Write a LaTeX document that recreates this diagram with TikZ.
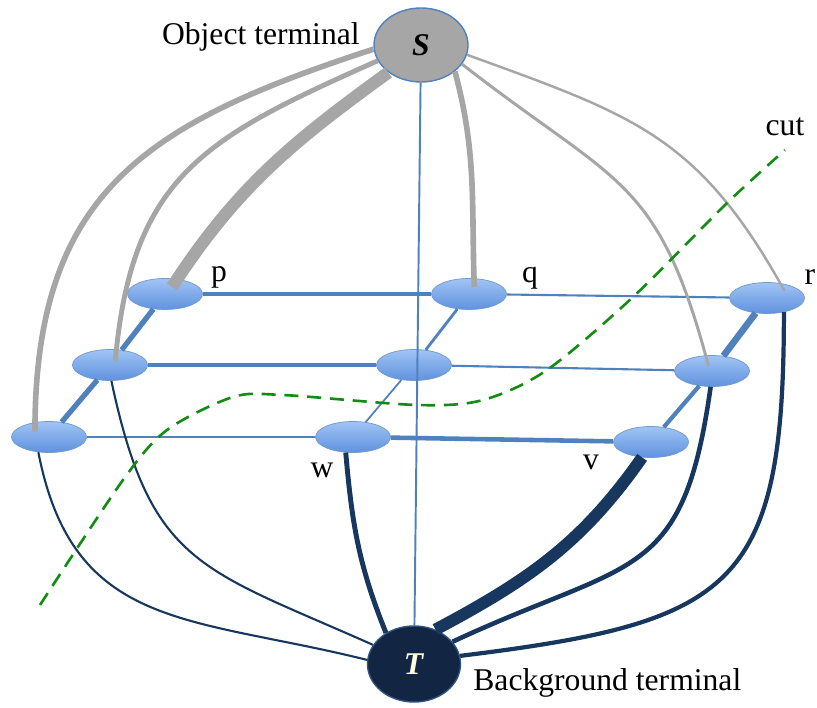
\documentclass[tikz,border=0pt]{standalone}
\usepackage{fontspec}
\setmainfont{Liberation Serif}
\usepackage{tikz}
\usetikzlibrary{shapes.geometric}
\definecolor{pixblue}{RGB}{79,129,189}
\definecolor{pixtop}{RGB}{160,196,245}
\definecolor{pixbot}{RGB}{96,146,222}
\definecolor{srcgray}{RGB}{166,166,166}
\definecolor{snknavy}{RGB}{23,55,94}
\definecolor{snkfill}{RGB}{18,37,66}
\definecolor{cutgreen}{RGB}{20,140,20}
\def\pixnode{\node[ellipse,draw=pixblue!80,line width=0.4pt,top color=pixtop,bottom color=pixbot,minimum width=1.5cm,minimum height=0.62cm,inner sep=0pt]}
\def\lbl{\node[anchor=base,inner sep=0pt]}

\begin{document}
\begin{tikzpicture}[font=\fontsize{18}{21}\selectfont,
  nlink/.style={draw=pixblue},
  slink/.style={draw=srcgray},
  tlink/.style={draw=snknavy}]
\useasboundingbox (0,0) rectangle (16.34,14.14);
% terminals
\node[ellipse,draw=pixblue,line width=0.8pt,fill=srcgray,minimum width=1.88cm,minimum height=1.48cm,inner sep=0pt] (s) at (8.42,13.24) {\textbf{\textit{S}}};
\node[ellipse,draw=pixblue!50!snkfill,line width=0.8pt,fill=snkfill,text=white!88!yellow,minimum width=1.86cm,minimum height=1.52cm,inner sep=0pt] (t) at (8.28,0.86) {\textbf{\textit{T}}};
\node[anchor=base east,inner sep=0pt] (slab) at (7.2,13.24) {Object terminal};
\node[anchor=base west,inner sep=0pt] (tlab) at (9.46,0.34) {Background terminal};
% pixels, back row to front row
\pixnode (p) at (3.30,8.26) {};
\pixnode (q) at (9.38,8.26) {};
\pixnode (r) at (15.34,8.18) {};
\pixnode (mleft) at (2.20,6.84) {};
\pixnode (mid) at (8.28,6.84) {};
\pixnode (mright) at (14.24,6.72) {};
\pixnode (fleft) at (0.98,5.40) {};
\pixnode (w) at (7.06,5.40) {};
\pixnode (v) at (13.02,5.30) {};
\lbl (plab) at (4.38,8.50) {p};
\lbl (qlab) at (10.60,8.48) {q};
\lbl (rlab) at (16.20,8.44) {r};
\lbl (wlab) at (6.44,4.60) {w};
\lbl (vlab) at (11.82,4.74) {v};
\lbl (cutlab) at (15.70,11.42) {cut};
% neighbour links
\draw[nlink,line width=2.8pt] (p) -- (q);
\draw[nlink,line width=1.2pt] (q) -- (r);
\draw[nlink,line width=2.8pt] (mleft) -- (mid);
\draw[nlink,line width=1.2pt] (mid) -- (mright);
\draw[nlink,line width=1.4pt] (fleft) -- (w);
\draw[nlink,line width=2.6pt] (w) -- (v);
\draw[nlink,line width=3.0pt] (p) -- (mleft);
\draw[nlink,line width=3.0pt] (mleft) -- (fleft);
\draw[nlink,line width=1.6pt] (q) -- (mid);
\draw[nlink,line width=1.0pt] (mid) -- (w);
\draw[nlink,line width=3.8pt] (r) -- (mright);
\draw[nlink,line width=2.4pt] (mright) -- (v);
\draw[nlink,line width=1.1pt] (s) -- (t);
% links to the object terminal
\draw[slink,line width=3.2pt] (s.185) to[out=198,in=90,looseness=1.2] ([xshift=-8pt,yshift=3pt]fleft.center);
\draw[slink,line width=2.8pt] (s.200) to[out=204,in=85,looseness=1.2] ([xshift=3pt,yshift=2pt]mleft.center);
\draw[slink,line width=7pt] (s.220) to[out=216,in=57] ([xshift=4pt,yshift=4pt]p.center);
\draw[slink,line width=3.2pt] (s.322) to[out=285,in=92] ([xshift=3pt,yshift=4pt]q.center);
\draw[slink,line width=1.7pt] (s.335) to[out=322,in=105,looseness=1.3] ([xshift=-2pt,yshift=3pt]mright.center);
\draw[slink,line width=1.4pt] (s.348) to[out=340,in=119,looseness=1.15] ([xshift=10pt,yshift=4pt]r.center);
% links to the background terminal
\draw[tlink,line width=1.2pt] (fleft.235) to[out=281,in=166,looseness=1.2] (t.175);
\draw[tlink,line width=1.2pt] (mleft.275) to[out=282,in=156,looseness=1.3] (t.155);
\draw[tlink,line width=2.8pt] (w.245) to[out=275,in=112] (t.132);
\draw[tlink,line width=6.8pt] (v.240) to[out=235,in=28] (t.58);
\draw[tlink,line width=2.6pt] (mright.265) to[out=262,in=25,looseness=1.4] (t.30);
\draw[tlink,line width=2.4pt] (r.320) to[out=270,in=7,looseness=1.5] (t.10);
% the cut
\draw[cutgreen,line width=1.5pt,dash pattern=on 8pt off 5pt] plot[smooth] coordinates {(0.8,2.04) (2.46,4.54) (3.34,5.54) (4.66,6.2) (5.66,6.24) (8.34,6.04) (9.66,6.14) (10.94,6.74) (12.66,8.2) (14.54,10.08) (15.7,11.14)};
\end{tikzpicture}
\end{document}
